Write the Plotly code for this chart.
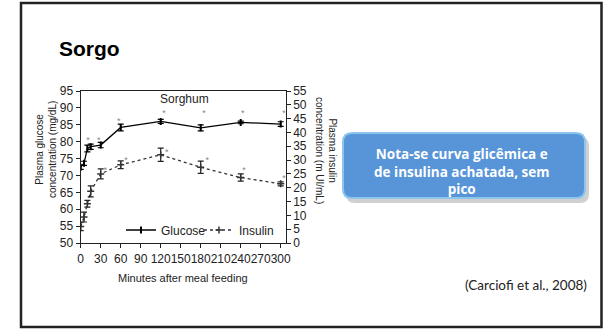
import plotly.graph_objects as go

# ---- data ----
times = [0, 5, 10, 15, 30, 60, 120, 180, 240, 300]
glucose = [72.4, 73.6, 78.0, 78.5, 79.0, 84.2, 86.0, 84.1, 85.7, 85.2]
glucose_err = [0.6, 0.6, 1.0, 0.8, 0.8, 1.0, 0.6, 0.9, 0.4, 0.7]
insulin = [6.0, 9.4, 14.2, 18.7, 25.0, 28.3, 31.9, 27.4, 23.7, 21.4]
insulin_err = [1.5, 1.8, 1.2, 2.0, 1.8, 1.4, 2.4, 2.2, 1.3, 0.7]

# significance marks (asterisks)
g_star_t = [11, 27, 57, 125, 185, 243, 305]
g_star_y = [80.2, 80.2, 85.9, 88.4, 88.4, 88.4, 88.4]
i_star_t = [37, 68, 129, 190, 245, 305]
i_star_y = [26.2, 29.7, 32.7, 29.7, 26.1, 23.2]

x_ticks = [0, 30, 60, 90, 120, 150, 180, 210, 240, 270, 300]
y_ticks = [50, 55, 60, 65, 70, 75, 80, 85, 90, 95]
y2_ticks = [0, 5, 10, 15, 20, 25, 30, 35, 40, 45, 50, 55]

W, H = 603, 329
def px(x):
    return x / W
def py(y):
    return 1 - y / H

FONT = "Liberation Sans"
INK = "#222"

fig = go.Figure()

fig.add_trace(go.Scatter(
    x=times, y=glucose, name="Glucose", mode="lines+markers",
    line=dict(color="black", width=1.3),
    marker=dict(symbol="line-ns", size=5, color="black", line=dict(width=2, color="black")),
    error_y=dict(type="data", array=glucose_err, color="black", thickness=1.2, width=3),
    yaxis="y", legend="legend"))

fig.add_trace(go.Scatter(
    x=times, y=insulin, name="Insulin", mode="lines+markers",
    line=dict(color="#333", width=1.3, dash="dot"),
    marker=dict(symbol="cross-thin", size=5, color="#333", line=dict(width=1.5, color="#333")),
    error_y=dict(type="data", array=insulin_err, color="#222", thickness=1.2, width=3),
    yaxis="y2", legend="legend2"))

fig.add_trace(go.Scatter(
    x=g_star_t, y=g_star_y, mode="text", text=["*"] * len(g_star_t),
    textfont=dict(size=9, color="#888", family=FONT), showlegend=False, yaxis="y",
    hoverinfo="skip"))
fig.add_trace(go.Scatter(
    x=i_star_t, y=i_star_y, mode="text", text=["*"] * len(i_star_t),
    textfont=dict(size=9, color="#888", family=FONT), showlegend=False, yaxis="y2",
    hoverinfo="skip"))

x_dom = [px(80.7), px(285.7)]
y_dom = [py(243), py(91)]

axis_common = dict(showline=True, linecolor=INK, linewidth=1.2, ticks="outside",
                   ticklen=4, tickcolor=INK, tickwidth=1, showgrid=False, zeroline=False,
                   tickangle=0, automargin=False,
                   tickfont=dict(family=FONT, size=12, color=INK))

legend_common = dict(orientation="h", xanchor="left", yanchor="middle",
                     bgcolor="rgba(0,0,0,0)", font=dict(family=FONT, size=12, color=INK),
                     itemwidth=30, borderwidth=0)

fig.update_layout(
    width=W, height=H, margin=dict(l=0, r=0, t=0, b=0, pad=0, autoexpand=False),
    paper_bgcolor="white", plot_bgcolor="white",
    font=dict(family=FONT, color=INK),
    xaxis=dict(domain=x_dom, range=[0, 307.5], tickvals=x_ticks, mirror=True, **axis_common),
    yaxis=dict(domain=y_dom, range=[50, 95], tickvals=y_ticks, **axis_common),
    yaxis2=dict(overlaying="y", side="right", range=[0, 55], tickvals=y2_ticks, **axis_common),
    legend=dict(x=px(121), y=py(230), **legend_common),
    legend2=dict(x=px(199), y=py(230), **legend_common),
    showlegend=True,
)

# slide frame
fig.add_shape(type="rect", xref="paper", yref="paper",
              x0=px(21), x1=px(601.5), y0=py(327), y1=py(3),
              line=dict(color="#222", width=2.5), fillcolor="rgba(0,0,0,0)", layer="below")

# rounded callout box with shadow
def rounded(x0, y0, x1, y1, r):
    rx, ry = r / W, r / H
    X0, X1 = px(x0), px(x1)
    Y0, Y1 = py(y1), py(y0)
    return (f"M {X0+rx} {Y1} L {X1-rx} {Y1} Q {X1} {Y1} {X1} {Y1-ry} "
            f"L {X1} {Y0+ry} Q {X1} {Y0} {X1-rx} {Y0} L {X0+rx} {Y0} "
            f"Q {X0} {Y0} {X0} {Y0+ry} L {X0} {Y1-ry} Q {X0} {Y1} {X0+rx} {Y1} Z")

fig.add_shape(type="path", xref="paper", yref="paper",
              path=rounded(346, 137, 589, 203, 9),
              fillcolor="rgba(120,120,120,0.35)", line=dict(width=0))
fig.add_shape(type="path", xref="paper", yref="paper",
              path=rounded(343, 133, 585, 198, 9),
              fillcolor="#5894d8", line=dict(color="#8cc6ef", width=2))

annotations = [
    dict(text="<b>Sorgo</b>", x=px(57), y=py(48), xanchor="left", yanchor="middle",
         font=dict(family=FONT, size=21, color="black"), showarrow=False),
    dict(text="<b>Nota-se curva glicêmica e<br>de insulina achatada, sem<br>pico</b>",
         x=px(462), y=py(171), xanchor="center", yanchor="middle", align="center",
         font=dict(family="Open Sans", size=13.5, color="white"), showarrow=False),
    dict(text="(Carciofi et al., 2008)", x=px(526), y=py(285), xanchor="center", yanchor="middle",
         font=dict(family="Lato", size=13.5, color="#222"), showarrow=False),
    dict(text="Sorghum", x=156, y=92.6, xref="x", yref="y", xanchor="center", yanchor="middle",
         font=dict(family=FONT, size=12, color=INK), showarrow=False),
    dict(text="Minutes after meal feeding", x=px(183), y=py(278), xanchor="center", yanchor="middle",
         font=dict(family=FONT, size=11, color=INK), showarrow=False),
    dict(text="Plasma glucose<br>concentration (mg/dL)", x=px(46), y=py(150), textangle=-90,
         xanchor="center", yanchor="middle", font=dict(family=FONT, size=10, color=INK), showarrow=False),
    dict(text="Plasma insulin<br>concentration (m UI/mL)", x=px(326), y=py(150), textangle=90,
         xanchor="center", yanchor="middle", font=dict(family=FONT, size=10, color=INK), showarrow=False),
]
for a in annotations:
    a.setdefault("xref", "paper")
    a.setdefault("yref", "paper")
    fig.add_annotation(**a)

fig.write_html("out.html", config={"displayModeBar": False},
               post_script="document.body.style.margin='0px';document.body.style.overflow='hidden';")
